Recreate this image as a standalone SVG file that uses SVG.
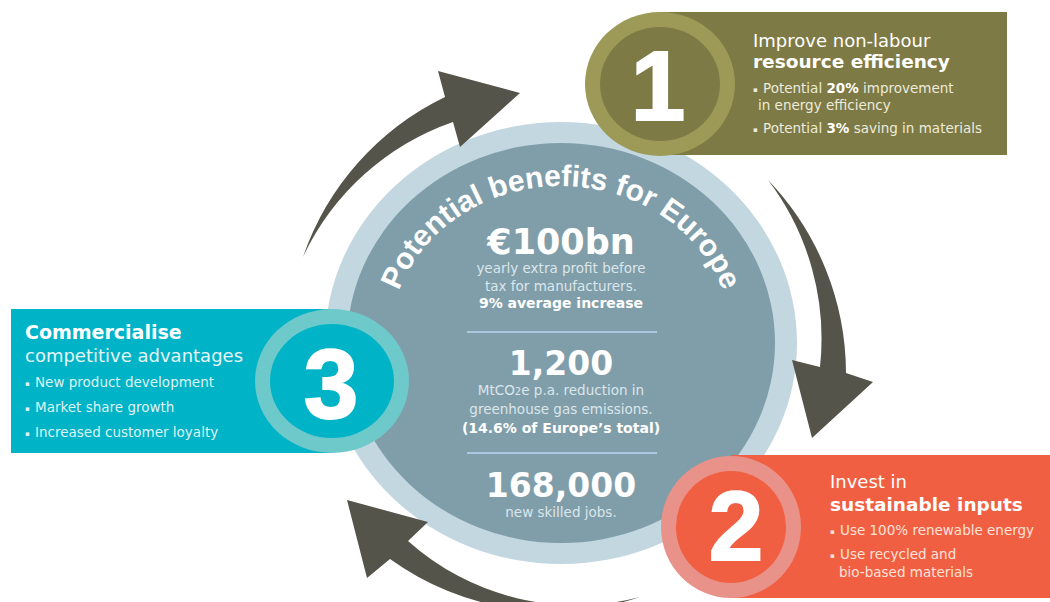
<svg xmlns="http://www.w3.org/2000/svg" width="1050" height="602" viewBox="0 0 1050 602">
<style>
  .t { font-family: "DejaVu Sans", "Liberation Sans", sans-serif; }
  .num { font-family: "Liberation Sans", Arial, sans-serif; font-weight: bold; font-size: 98px; fill: #ffffff; stroke: #ffffff; stroke-width: 2; text-anchor: middle; }
  .head { font-size: 18px; fill: #ffffff; }
  .headb { font-size: 18.5px; font-weight: bold; fill: #ffffff; }
  .bul { font-size: 13.5px; }
  .dot { font-size: 7px; }
  .b { font-weight: bold; }
  .c { text-anchor: middle; fill: #dbe6ea; font-size: 13.5px; }
  .cb { text-anchor: middle; fill: #ffffff; font-weight: bold; }
  .arrow { fill: #55544a; }
  .sep { stroke: #a9c8df; stroke-width: 2; }
</style>
<defs>
  <path id="arc" d="M 389 343 A 172 157 0 0 1 733 343"/>
</defs>

<g id="centre">
  <ellipse cx="561" cy="343" rx="236" ry="221" fill="#c3d7e1"/>
  <ellipse cx="561" cy="343" rx="214" ry="200" fill="#7f9eaa"/>
  <text font-family="Liberation Sans, Arial, sans-serif" font-weight="bold" font-size="30" fill="#ffffff"><textPath href="#arc" startOffset="50%" text-anchor="middle">Potential benefits for Europe</textPath></text>
  <text class="t cb" x="561" y="254" font-size="35">€100bn</text>
  <text class="t c" x="561" y="273">yearly extra profit before</text>
  <text class="t c" x="561" y="291">tax for manufacturers.</text>
  <text class="t cb" x="561" y="308" font-size="14">9% average increase</text>
  <line class="sep" x1="467" y1="332" x2="657" y2="332"/>
  <text class="t cb" x="561" y="375" font-size="33">1,200</text>
  <text class="t c" x="561" y="395">MtCO<tspan font-size="10">2</tspan>e p.a. reduction in</text>
  <text class="t c" x="561" y="414">greenhouse gas emissions.</text>
  <text class="t cb" x="561" y="433" font-size="14">(14.6% of Europe’s total)</text>
  <line class="sep" x1="467" y1="453" x2="657" y2="453"/>
  <text class="t cb" x="561" y="497" font-size="33">168,000</text>
  <text class="t c" x="561" y="517">new skilled jobs.</text>
</g>

<g id="connectors">
  <path class="arrow" d="M 303 257 A 278 278 0 0 1 445 97 L 438 71 L 520 93 L 460 147 L 453 122 A 260 260 0 0 0 303 257 Z"/>
  <path class="arrow" d="M 768 180 A 280 280 0 0 1 846 373 L 873 382 L 812 438 L 792 360 L 820 367 A 262 262 0 0 0 768 180 Z"/>
  <path class="arrow" d="M 640 597 A 252 252 0 0 1 408 541 L 428 522 L 347 500 L 367 578 L 390 559 A 277 277 0 0 0 640 597 Z"/>
</g>

<g id="box1">
  <rect x="660" y="12" width="347" height="143" fill="#7e7a45"/>
  <ellipse cx="660" cy="84" rx="75" ry="72" fill="#9c9a56"/>
  <ellipse cx="660" cy="84" rx="60" ry="57" fill="#7e7a45"/>
  <text class="num" x="658" y="120">1</text>
  <text class="t head" x="753" y="47">Improve non-labour</text>
  <text class="t headb" x="753" y="68">resource efficiency</text>
  <g class="t bul" fill="#ecebdc">
    <text x="753" y="93"><tspan class="dot" dy="-1.5">▪</tspan><tspan x="763" dy="1.5">Potential <tspan class="b" fill="#ffffff">20%</tspan> improvement</tspan></text>
    <text x="758" y="110">in energy efficiency</text>
    <text x="753" y="133"><tspan class="dot" dy="-1.5">▪</tspan><tspan x="763" dy="1.5">Potential <tspan class="b" fill="#ffffff">3%</tspan> saving in materials</tspan></text>
  </g>
</g>

<g id="box3">
  <rect x="11" y="309" width="322" height="144" fill="#00b3c7"/>
  <ellipse cx="332" cy="381" rx="77" ry="72" fill="#6dc9ca"/>
  <ellipse cx="332" cy="381" rx="62" ry="57" fill="#00b3c7"/>
  <text class="num" x="331" y="418">3</text>
  <text class="t" x="25" y="339" font-size="19" font-weight="bold" fill="#ffffff">Commercialise</text>
  <text class="t" x="25" y="362" font-size="18" fill="#e6f6f8">competitive advantages</text>
  <g class="t bul" fill="#dff3f5">
    <text x="25" y="387"><tspan class="dot" dy="-1.5">▪</tspan><tspan x="35" dy="1.5">New product development</tspan></text>
    <text x="25" y="412"><tspan class="dot" dy="-1.5">▪</tspan><tspan x="35" dy="1.5">Market share growth</tspan></text>
    <text x="25" y="437"><tspan class="dot" dy="-1.5">▪</tspan><tspan x="35" dy="1.5">Increased customer loyalty</tspan></text>
  </g>
</g>

<g id="box2">
  <rect x="731" y="455" width="319" height="143" fill="#f15f42"/>
  <ellipse cx="731" cy="527" rx="70" ry="71" fill="#e8928a"/>
  <ellipse cx="731" cy="527" rx="55" ry="56" fill="#f15f42"/>
  <text class="num" x="736" y="560">2</text>
  <text class="t head" x="830" y="488" fill="#fdebe5">Invest in</text>
  <text class="t headb" x="830" y="511">sustainable inputs</text>
  <g class="t bul" fill="#fde2da">
    <text x="830" y="535"><tspan class="dot" dy="-1.5">▪</tspan><tspan x="840" dy="1.5">Use 100% renewable energy</tspan></text>
    <text x="830" y="559"><tspan class="dot" dy="-1.5">▪</tspan><tspan x="840" dy="1.5">Use recycled and</tspan></text>
    <text x="839" y="577">bio-based materials</text>
  </g>
</g>
</svg>
